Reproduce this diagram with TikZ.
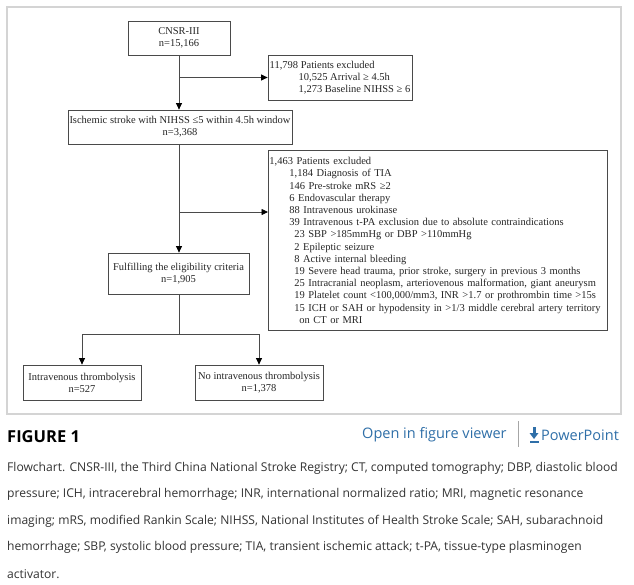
\documentclass[tikz,border=0pt]{standalone}
\usepackage{fontspec}
\setmainfont{Liberation Serif}
\newfontfamily\osans{Open Sans}
\usetikzlibrary{arrows.meta}
\definecolor{linegray}{HTML}{4A4A4A}
\definecolor{framegray}{HTML}{D4D4D4}
\definecolor{linkblue}{HTML}{2F6FA8}
\definecolor{captext}{HTML}{333333}
\begin{document}
\begin{tikzpicture}[x=1pt,y=1pt,
  box/.style={draw=linegray, line width=0.8pt, align=center, inner sep=1pt, text=black!85, font=\fontsize{10.5}{12}\selectfont},
  listbox/.style={draw=linegray, line width=0.8pt, align=left, inner xsep=1pt, inner ysep=0pt, text=black!85, font=\fontsize{10.5}{12.2}\selectfont},
  ln/.style={draw=linegray, line width=0.8pt},
  arr/.style={ln, arrows={-Triangle[length=6.5pt,width=6pt,black]}},
  captionline/.style={anchor=west, inner sep=0pt, text=captext, font=\osans\fontsize{12.1}{14}\selectfont},
  linktext/.style={anchor=west, inner sep=0pt, text=linkblue, font=\osans\fontsize{14.5}{16}\selectfont}]
\useasboundingbox (0,0) rectangle (634,-584);
\fill[white] (0,0) rectangle (634,-584);
\draw[framegray, line width=1.5pt] (7,-7) rectangle (621,-414);

% flowchart boxes
\node[box, minimum width=102pt, minimum height=34pt] (cnsr) at (179,-38) {CNSR-III\\n=15,166};
\node[listbox, minimum width=144pt, minimum height=45pt] (ex1) at (340,-77.5)
  {11,798 Patients excluded\\
   \hspace*{29pt}10,525 Arrival ≥ 4.5h\\
   \hspace*{29pt}1,273 Baseline NIHSS ≥ 6};
\node[box, minimum width=224pt, minimum height=34pt] (isch) at (180,-127) {Ischemic stroke with NIHSS ≤5 within 4.5h window\\n=3,368};
\node[listbox, anchor=north west, text width=337pt, minimum height=180pt] (ex2) at (268,-150)
  {1,463 Patients excluded\\
   \hspace*{20pt}1,184 Diagnosis of TIA\\
   \hspace*{20pt}146 Pre-stroke mRS ≥2\\
   \hspace*{20pt}6 Endovascular therapy\\
   \hspace*{20pt}88 Intravenous urokinase\\
   \hspace*{20pt}39 Intravenous t-PA exclusion due to absolute contraindications\\
   \hspace*{25pt}23 SBP >185mmHg or DBP >110mmHg\\
   \hspace*{25pt}2 Epileptic seizure\\
   \hspace*{25pt}8 Active internal bleeding\\
   \hspace*{25pt}19 Severe head trauma, prior stroke, surgery in previous 3 months\\
   \hspace*{25pt}25 Intracranial neoplasm, arteriovenous malformation, giant aneurysm\\
   \hspace*{25pt}19 Platelet count <100,000/mm3, INR >1.7 or prothrombin time >15s\\
   \hspace*{25pt}15 ICH or SAH or hypodensity in >1/3 middle cerebral artery territory\\
   \hspace*{30pt}on CT or MRI};
\node[box, minimum width=141pt, minimum height=41pt] (fulf) at (178.5,-273.5) {Fulfilling the eligibility criteria\\n=1,905};
\node[box, minimum width=118pt, minimum height=35pt] (ivt) at (82,-382.5) {Intravenous thrombolysis\\n=527};
\node[box, minimum width=128pt, minimum height=35pt] (noivt) at (259,-382.5) {No intravenous thrombolysis\\n=1,378};

% connectors
\coordinate (j1) at (179,-77.5);
\coordinate (j2) at (179,-212);
\coordinate (j3) at (179,-334);
\draw[arr] (cnsr.south -| j1) -- (isch.north -| j1);
\draw[arr] (j1) -- (ex1.west);
\draw[arr] (isch.south -| j2) -- (fulf.north -| j2);
\draw[arr] (j2) -- (j2 -| ex2.west);
\draw[ln] (fulf.south -| j3) -- (j3);
\draw[arr] (j3) -| (ivt.north);
\draw[arr] (j3) -| (noivt.north);

% header of caption
\node[anchor=west, inner sep=0pt, text=black, font=\osans\bfseries\fontsize{16.5}{18}\selectfont] (fig) at (7,-437) {FIGURE 1};
\node[linktext] (open) at (362,-435) {Open in figure viewer};
\draw[color=gray!70, line width=0.9pt] (518,-421) -- (518,-447);
\node[linktext] (pp) at (541,-435) {PowerPoint};
\fill[linkblue] (532.5,-427) rectangle (535.5,-434);
\fill[linkblue] (529.5,-433) -- (538.5,-433) -- (534,-439) -- cycle;
\fill[linkblue] (529.5,-441) rectangle (538.5,-442.5);

% caption body
\node[captionline] (c1) at (7,-468) {Flowchart. CNSR-III, the Third China National Stroke Registry; CT, computed tomography; DBP, diastolic blood};
\node[captionline] (c2) at (7,-494.5) {pressure; ICH, intracerebral hemorrhage; INR, international normalized ratio; MRI, magnetic resonance};
\node[captionline] (c3) at (7,-521) {imaging; mRS, modified Rankin Scale; NIHSS, National Institutes of Health Stroke Scale; SAH, subarachnoid};
\node[captionline] (c4) at (7,-547.5) {hemorrhage; SBP, systolic blood pressure; TIA, transient ischemic attack; t-PA, tissue-type plasminogen};
\node[captionline] (c5) at (7,-574) {activator.};
\end{tikzpicture}
\end{document}
